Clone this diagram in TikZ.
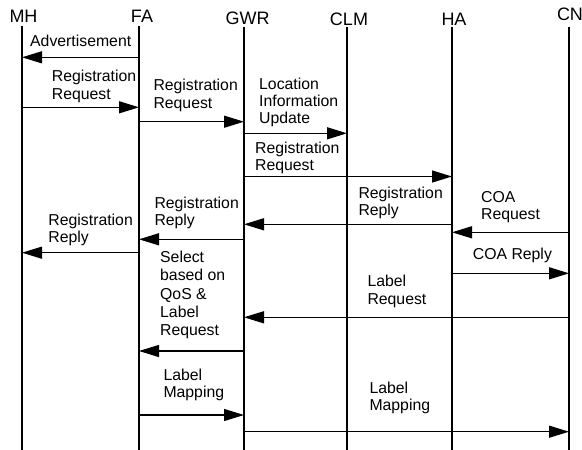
\documentclass[tikz,border=0pt]{standalone}
\usepackage{fontspec}
\setmainfont{Liberation Sans}
\usetikzlibrary{arrows.meta}
\newcommand\msglines[1]{\begin{tabular}[t]{@{}l@{}}#1\end{tabular}}
\begin{document}
\begin{tikzpicture}[x=1pt,y=-1pt,
  head/.style={inner sep=0pt,anchor=base,font=\fontsize{18}{20}\selectfont},
  life/.style={line width=1.3pt},
  msg/.style={line width=1.3pt,-{Triangle[length=20pt,width=12pt]}},
  lbl/.style={inner sep=0pt,anchor=base west,font=\fontsize{15.8}{17.4}\selectfont}]
\useasboundingbox[fill=white] (0,0) rectangle (582,450);
% headers
\node[head] (MH)  at (23.5,22.7) {MH};
\node[head] (FA)  at (142,22.7) {FA};
\node[head] (GWR) at (247.5,24) {GWR};
\node[head] (CLM) at (349,25) {CLM};
\node[head] (HA)  at (454,25) {HA};
\node[head] (CN)  at (570,20) {CN};
% lifelines
\coordinate (MHt) at (22,26);   \coordinate (MHb) at (22,450);
\coordinate (FAt) at (139,26);  \coordinate (FAb) at (139,450);
\coordinate (GWRt) at (244,27); \coordinate (GWRb) at (244,450);
\coordinate (CLMt) at (347,27); \coordinate (CLMb) at (347,450);
\coordinate (HAt) at (452,27);  \coordinate (HAb) at (452,450);
\coordinate (CNt) at (569,27);  \coordinate (CNb) at (569,450);
\foreach \l in {MH,FA,GWR,CLM,HA,CN}{\draw[life] (\l t) -- (\l b);}
% message end points
\coordinate (m1a) at (139,57.3);  \coordinate (m1b) at (22,57.3);
\coordinate (m2a) at (22,107.3);  \coordinate (m2b) at (139,107.3);
\coordinate (m3a) at (139,121.7); \coordinate (m3b) at (244,121.7);
\coordinate (m4a) at (244,133.3); \coordinate (m4b) at (347,133.3);
\coordinate (m5a) at (244,176.5); \coordinate (m5b) at (452,176.5);
\coordinate (m6a) at (452,224.3); \coordinate (m6b) at (244,224.3);
\coordinate (m7a) at (569,232.3); \coordinate (m7b) at (452,232.3);
\coordinate (m8a) at (244,239.3); \coordinate (m8b) at (139,239.3);
\coordinate (m9a) at (139,252.7); \coordinate (m9b) at (22,252.7);
\coordinate (m10a) at (452,273.3); \coordinate (m10b) at (569,273.3);
\coordinate (m11a) at (569,317.3); \coordinate (m11b) at (244,317.3);
\coordinate (m12a) at (244,351);  \coordinate (m12b) at (139,351);
\coordinate (m13a) at (139,415);  \coordinate (m13b) at (244,415);
\coordinate (m14a) at (244,431.7); \coordinate (m14b) at (569,431.7);
\foreach \i in {1,...,14}{\draw[msg] (m\i a) -- (m\i b);}
% labels
\node[lbl] (l1) at (30,46) {Advertisement};
\node[lbl] (l2) at (51.7,81.7) {\msglines{Registration\\Request}};
\node[lbl] (l3) at (153.3,90.7) {\msglines{Registration\\Request}};
\node[lbl] (l4) at (259,89) {\msglines{Location\\Information\\Update}};
\node[lbl] (l5) at (255,153) {\msglines{Registration\\Request}};
\node[lbl] (l6) at (358.3,198) {\msglines{Registration\\Reply}};
\node[lbl] (l7) at (481,202) {\msglines{COA\\Request}};
\node[lbl] (l8) at (154.3,208.3) {\msglines{Registration\\Reply}};
\node[lbl] (l9) at (48.3,225) {\msglines{Registration\\Reply}};
\node[lbl] (l10) at (472.7,259) {COA Reply};
\node[lbl] (l11) at (367.3,286.7) {\msglines{Label\\Request}};
\node[lbl,font=\fontsize{15.8}{18.2}\selectfont] (l12) at (160,262.7) {\msglines{Select\\based on\\QoS \&\\Label\\Request}};
\node[lbl] (l13) at (163.3,380) {\msglines{Label\\Mapping}};
\node[lbl] (l14) at (369.3,393.3) {\msglines{Label\\Mapping}};
\end{tikzpicture}
\end{document}
